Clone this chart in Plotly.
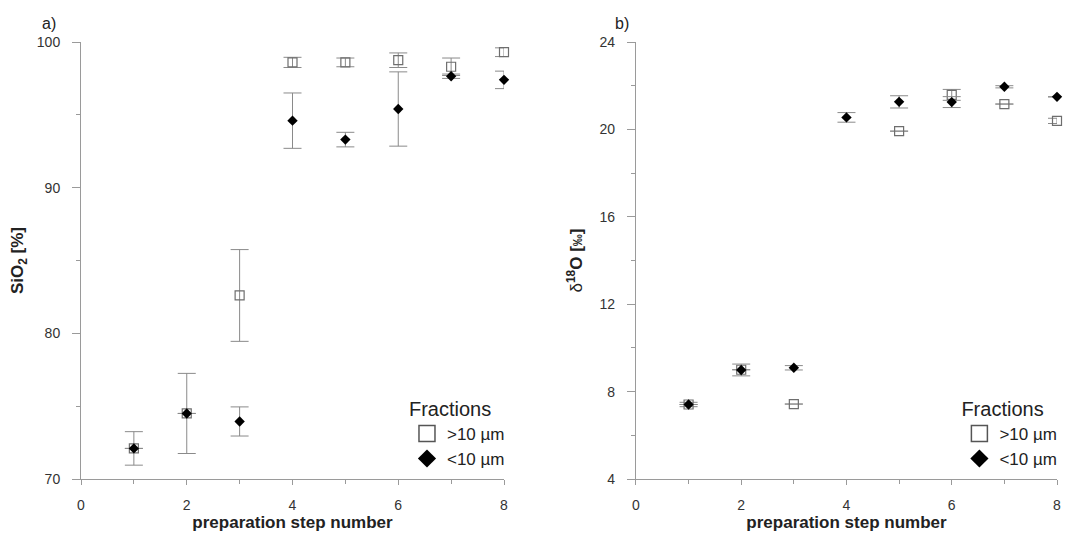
import plotly.graph_objects as go

steps = [1, 2, 3, 4, 5, 6, 7, 8]

# SiO2 [%]
sio2_coarse = [72.1, 74.5, 82.6, 98.6, 98.6, 98.75, 98.3, 99.3]
sio2_coarse_err = [1.15, 2.75, 3.15, 0.35, 0.3, 0.5, 0.6, 0.3]
sio2_fine = [72.1, 74.5, 73.95, 94.6, 93.3, 95.4, 97.65, 97.4]
sio2_fine_err = [None, None, 1.0, 1.9, 0.5, 2.55, 0.15, 0.6]

# delta 18O [permil]
d18o_coarse = [7.41, 9.0, 7.43, None, 19.92, 21.58, 21.16, 20.39]
d18o_coarse_err = [0.1, None, None, None, None, 0.25, None, 0.12]
d18o_fine = [7.41, 8.99, 9.09, 20.55, 21.26, 21.25, 21.95, 21.49]
d18o_fine_err = [None, 0.27, 0.1, 0.22, 0.28, 0.25, 0.05, None]

legend_names = [">10 µm", "<10 µm"]

FONT = "Liberation Sans, Arial, sans-serif"
AX = "#9a9a9a"
ERR = "#8a8a8a"

fig = go.Figure()


def add_series(x, y, err, xa, ya, coarse):
    if coarse:
        marker = dict(symbol="square-open", size=9, color="#6e6e6e", line=dict(width=1.2, color="#6e6e6e"))
    else:
        marker = dict(symbol="diamond", size=8, color="black", line=dict(width=0))
    fig.add_trace(go.Scatter(
        x=x, y=y, mode="markers", xaxis=xa, yaxis=ya, showlegend=False,
        marker=marker, cliponaxis=False,
        error_y=dict(type="data", array=err, visible=True, color=ERR, thickness=1, width=9),
    ))


add_series(steps, sio2_coarse, sio2_coarse_err, "x", "y", True)
add_series(steps, sio2_fine, sio2_fine_err, "x", "y", False)
add_series(steps, d18o_coarse, d18o_coarse_err, "x2", "y2", True)
add_series(steps, d18o_fine, d18o_fine_err, "x2", "y2", False)

# legend entries
for lg, xa, ya in [("legend", "x", "y"), ("legend2", "x2", "y2")]:
    fig.add_trace(go.Scatter(x=[None], y=[None], mode="markers", xaxis=xa, yaxis=ya,
                             name=legend_names[0], legend=lg,
                             marker=dict(symbol="square-open", size=16, color="#555",
                                         line=dict(width=1.5, color="#555"))))
    fig.add_trace(go.Scatter(x=[None], y=[None], mode="markers", xaxis=xa, yaxis=ya,
                             name=legend_names[1], legend=lg,
                             marker=dict(symbol="diamond", size=14, color="black")))

tickfont = dict(family=FONT, size=14, color="#333")
common_x = dict(range=[0, 8], tickvals=[0, 2, 4, 6, 8], showgrid=False, zeroline=False,
                showline=True, linecolor=AX, linewidth=1, ticks="outside", ticklen=5,
                tickcolor=AX, tickfont=tickfont, ticklabelstandoff=8, automargin=False,
                minor=dict(tickvals=[1, 3, 5, 7], ticks="outside", ticklen=4, tickcolor=AX),
                title=dict(text="<b>preparation step number</b>",
                           font=dict(family=FONT, size=17, color="#222"), standoff=4))
common_y = dict(showgrid=False, zeroline=False, showline=True, linecolor=AX, linewidth=1,
                ticks="outside", ticklen=8, tickcolor=AX, tickfont=tickfont,
                ticklabelstandoff=9, automargin=False)

fig.update_layout(
    width=1074, height=525,
    margin=dict(l=73, r=25, t=34, b=54),
    paper_bgcolor="white", plot_bgcolor="white",
    font=dict(family=FONT, color="#222"),
    xaxis=dict(domain=[0, 0.4334], anchor="y", **common_x),
    xaxis2=dict(domain=[0.5686, 1], anchor="y2", **common_x),
    yaxis=dict(domain=[0, 1], anchor="x", range=[70, 100], tickvals=[70, 80, 90, 100],
               minor=dict(tickvals=[75, 85, 95], ticks="outside", ticklen=4, tickcolor=AX),
               title=dict(text="<b>SiO<sub>2</sub> [%]</b>", font=dict(family=FONT, size=17, color="#222"),
                          standoff=12),
               **common_y),
    yaxis2=dict(domain=[0, 1], anchor="x2", range=[4, 24], tickvals=[4, 8, 12, 16, 20, 24],
                minor=dict(tickvals=[6, 10, 14, 18, 22], ticks="outside", ticklen=4, tickcolor=AX),
                title=dict(text="δ<b><sup>18</sup>O [<span style='font-size:12px'>‰</span>]</b>",
                           font=dict(family=FONT, size=17, color="#222"), standoff=12),
                **common_y),
    legend=dict(title=dict(text="Fractions", font=dict(family=FONT, size=20, color="#222")),
                font=dict(family=FONT, size=17, color="#222"),
                x=0.334, xanchor="left", y=0.204, yanchor="top",
                bgcolor="rgba(0,0,0,0)", tracegroupgap=0, itemwidth=30),
    legend2=dict(title=dict(text="Fractions", font=dict(family=FONT, size=20, color="#222")),
                 font=dict(family=FONT, size=17, color="#222"),
                 x=0.900, xanchor="left", y=0.204, yanchor="top",
                 bgcolor="rgba(0,0,0,0)", tracegroupgap=0, itemwidth=30),
    annotations=[
        dict(text="a)", xref="paper", yref="paper", x=-0.042, y=1.0, xanchor="left", yanchor="bottom",
             yshift=8, showarrow=False, font=dict(family=FONT, size=16, color="#222")),
        dict(text="b)", xref="paper", yref="paper", x=0.545, y=1.0, xanchor="left", yanchor="bottom",
             yshift=8, showarrow=False, font=dict(family=FONT, size=16, color="#222")),
    ],
)

fig.write_html("out.html")
